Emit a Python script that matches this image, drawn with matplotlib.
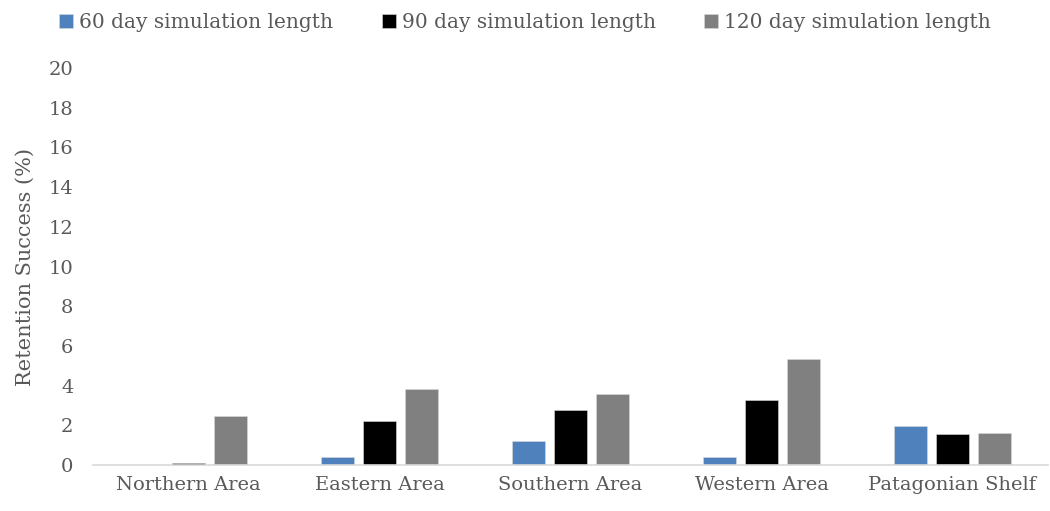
import matplotlib
matplotlib.use("Agg")
import matplotlib.pyplot as plt
import numpy as np

plt.rcParams['font.family'] = ['DejaVu Serif']

# Retention success (%) per release area and simulation length
areas = ["Northern Area", "Eastern Area", "Southern Area", "Western Area", "Patagonian Shelf"]
day60 = [0.0, 0.42, 1.19, 0.40, 1.96]
day90 = [0.12, 2.20, 2.76, 3.26, 1.55]
day120 = [2.45, 3.81, 3.58, 5.34, 1.63]

series = [
    ("60 day simulation length", day60, "#4F81BD"),
    ("90 day simulation length", day90, "#000000"),
    ("120 day simulation length", day120, "#808080"),
]

fig = plt.figure(figsize=(10.5, 5.11), dpi=100)
ax = fig.add_axes([93/1050, 46/511, 955/1050, 397/511])

x = np.arange(len(areas))
w = 0.173
step = 0.22
handles = []
for i, (name, vals, col) in enumerate(series):
    b = ax.bar(x + (i - 1) * step, vals, width=w, color=col,
               edgecolor="#d9d9d9", linewidth=0.4, label=name)
    handles.append(b)

ax.set_xlim(-0.5, len(areas) - 0.5)
ax.set_ylim(0, 20)
ax.set_yticks(range(0, 21, 2))
ax.set_xticks(x)
ax.set_xticklabels(areas)
ax.tick_params(axis="both", length=0, labelsize=14, colors="#595959", pad=8)
ax.tick_params(axis="y", pad=14)
ax.set_ylabel("Retention Success (%)", fontsize=15, color="#595959", labelpad=10)

for s in ["top", "right", "left"]:
    ax.spines[s].set_visible(False)
ax.spines["bottom"].set_color("#d9d9d9")
ax.spines["bottom"].set_linewidth(1.2)

fig.legend(handles=handles, loc="upper center", bbox_to_anchor=(0.5, 1.01), ncol=3,
           frameon=False, fontsize=14.5, handlelength=0.7, handleheight=0.7,
           handletextpad=0.3, columnspacing=2.4, labelcolor="#595959")

fig.savefig("out.png", dpi=100, facecolor="white")
